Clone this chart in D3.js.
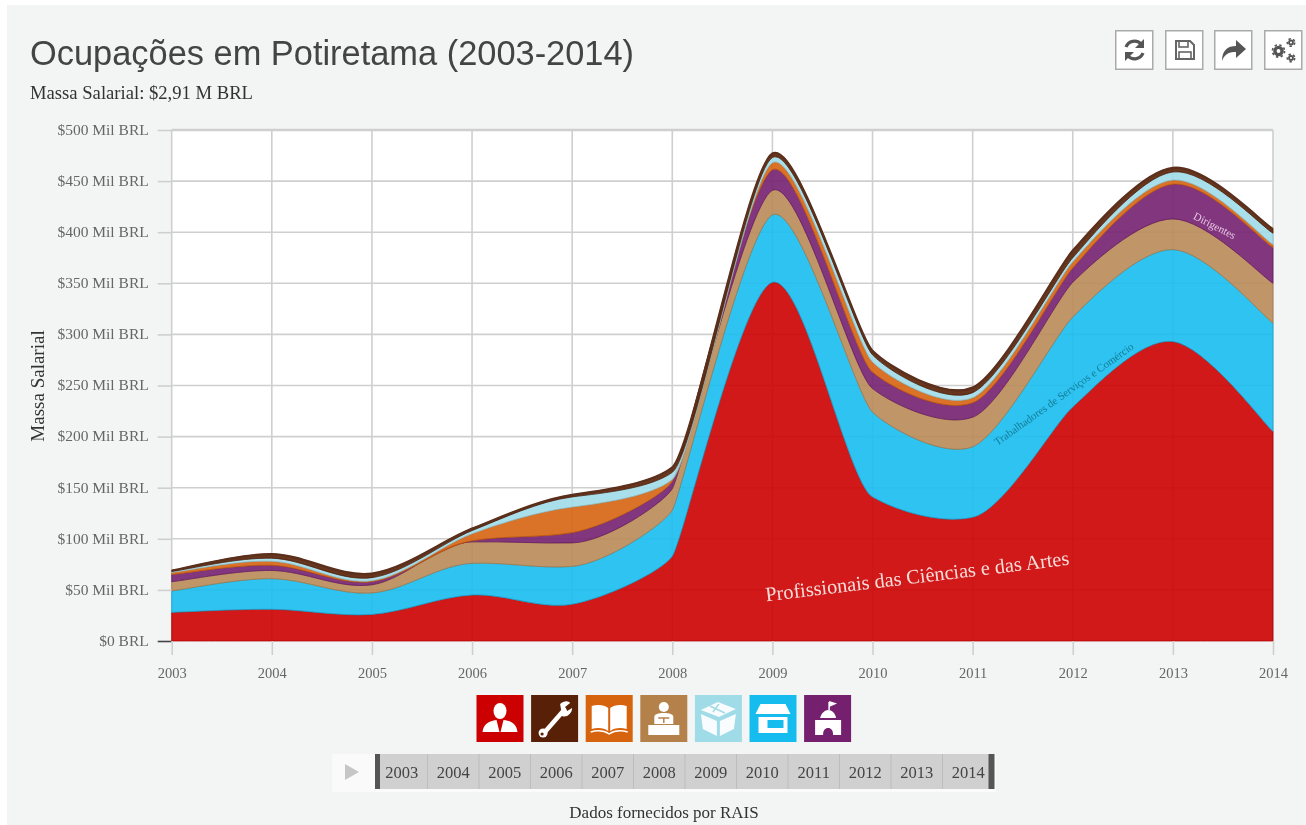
<!DOCTYPE html>
<html><head><meta charset="utf-8">
<script src="https://cdn.jsdelivr.net/npm/d3@7"></script>
<style>
html,body{margin:0;padding:0;background:#fff;overflow:hidden}
svg{display:block;filter:blur(0.3px)}
.serif{font-family:"Liberation Serif",serif}
.sans{font-family:"Liberation Sans",Arial,sans-serif}
</style></head><body>
<svg id="c" width="1306" height="825"></svg>
<script>
const years = [2003,2004,2005,2006,2007,2008,2009,2010,2011,2012,2013,2014];
const profissionais = [28,31,26,45,36,83,351,141,121,229,293,205];
const servicos      = [21,30,21,31,37,45,66,83,69,88,90,106];
const administrativos = [9,8,8,21,23,21,24,23,29,34,30,39];
const dirigentes    = [7,5,3,1,10,7,20,16,14,14,34,35];
const tecnicos      = [2,4,1,7,25,2,7,10,5,6,4,3];
const agropecuaria  = [1,3,3,3,10,7,5,7,5,4,8,11];
const industria     = [1,4,4,2,2,5,4,4,5,7,4,4];
const seriesNames = ["Profissionais","Servicos","Administrativos","Dirigentes","Tecnicos","Agropecuaria","Industria"];
const seriesValues = [profissionais,servicos,administrativos,dirigentes,tecnicos,agropecuaria,industria];
const seriesColors = ["#cc0000","#17bcef","#b98a56","#74206f","#d6640f","#a0dbe8","#582007"];
const yTicks = [0,50,100,150,200,250,300,350,400,450,500];
const legendColors = ["#cc0000","#582007","#d6640f","#b5814a","#a0dbe8","#17bcef","#74206f"];

// Older-style monotone interpolation (tangents shortened where the slope is steep)
function monotoneClassic(context){
  let line = NaN, pts = [];
  return {
    areaStart(){ line = 0; },
    areaEnd(){ line = NaN; },
    lineStart(){ pts = []; },
    point(a,b){ pts.push([+a,+b]); },
    lineEnd(){
      const n = pts.length;
      if(n){
        const sl = [];
        for(let i=0;i<n-1;i++) sl.push((pts[i+1][1]-pts[i][1])/(pts[i+1][0]-pts[i][0]));
        const m = pts.map((p,i)=> i===0 ? sl[0] : i===n-1 ? sl[n-2] : (sl[i-1]+sl[i])/2);
        for(let i=0;i<n-1;i++){
          const d = sl[i];
          if(Math.abs(d)<1e-6){ m[i]=m[i+1]=0; }
          else{
            const p=m[i]/d, q=m[i+1]/d; let s=p*p+q*q;
            if(s>9){ s=d*3/Math.sqrt(s); m[i]=s*p; m[i+1]=s*q; }
          }
        }
        const tan = pts.map((p,i)=>{
          const s=(pts[Math.min(n-1,i+1)][0]-pts[Math.max(0,i-1)][0])/(6*(1+m[i]*m[i]));
          return [s, m[i]*s];
        });
        if(line) context.lineTo(pts[0][0],pts[0][1]); else context.moveTo(pts[0][0],pts[0][1]);
        for(let i=1;i<n;i++){
          context.bezierCurveTo(pts[i-1][0]+tan[i-1][0],pts[i-1][1]+tan[i-1][1],
                                pts[i][0]-tan[i][0],pts[i][1]-tan[i][1],pts[i][0],pts[i][1]);
        }
      }
      if(line) context.closePath();
      line = 1-line;
    }
  };
}

const svg = d3.select("#c");
svg.append("rect").attr("x",7).attr("y",5).attr("width",1299).attr("height",820).attr("fill","#f3f5f4");

const x = d3.scaleLinear().domain([2003,2014]).range([171.7,1273]);
const y = d3.scaleLinear().domain([0,500]).range([641,130]);

// title
svg.append("text").attr("class","sans").attr("x",30).attr("y",65).attr("font-size",34.4).attr("fill","#444").text("Ocupações em Potiretama (2003-2014)");
svg.append("text").attr("class","serif").attr("x",30).attr("y",99).attr("font-size",18).attr("textLength",223).attr("lengthAdjust","spacingAndGlyphs").attr("fill","#333").text("Massa Salarial: $2,91 M BRL");

// plot background
svg.append("rect").attr("x",x(2003)).attr("y",y(500)).attr("width",x(2014)-x(2003)).attr("height",y(0)-y(500)).attr("fill","#fff");

// grid
const grid = svg.append("g").attr("stroke","#cfcfcf");
grid.selectAll(".h").data(yTicks.filter(d=>d>0)).join("line")
  .attr("x1",x(2003)).attr("x2",x(2014)).attr("y1",d=>y(d)).attr("y2",d=>y(d)).attr("stroke-width",d=>d===500?2.5:1.6);
grid.selectAll(".v").data(years).join("line")
  .attr("y1",y(500)).attr("y2",y(0)).attr("x1",d=>x(d)).attr("x2",d=>x(d)).attr("stroke-width",1.6);

// stack
const rows = years.map((yr,i)=>{const r={year:yr};seriesNames.forEach((n,j)=>r[n]=seriesValues[j][i]);return r;});
const stacked = d3.stack().keys(seriesNames)(rows);
const area = d3.area().x(d=>x(d.data.year)).y0(d=>y(d[0])).y1(d=>y(d[1])).curve(monotoneClassic);
svg.append("g").selectAll("path").data(stacked).join("path")
  .attr("d",area)
  .attr("fill",(d,i)=>seriesColors[i]).attr("fill-opacity",.9)
  .attr("stroke",(d,i)=>d3.color(seriesColors[i]).darker(.4)).attr("stroke-opacity",.75).attr("stroke-width",1);
const topLine = d3.line().x(d=>x(d.data.year)).y(d=>y(d[1])).curve(monotoneClassic);
svg.append("path").attr("d",topLine(stacked[6])).attr("fill","none").attr("stroke","#5a2f1c").attr("stroke-width",2.2);

// axes
const yAxis = d3.axisLeft(y).tickValues(yTicks).tickSize(14).tickPadding(9)
  .tickFormat(d=>d===0?"$0 BRL":`$${d} Mil BRL`);
const gy = svg.append("g").attr("transform",`translate(${x(2003)},0)`).call(yAxis);
gy.select(".domain").remove();
gy.selectAll("line").attr("stroke",(d)=>d===0?"#444":"#cfcfcf").attr("stroke-width",1.6);
gy.selectAll("text").attr("class","serif").attr("font-size",15.5).attr("fill","#666").attr("dy","0.28em");

const xAxis = d3.axisBottom(x).tickValues(years).tickFormat(d3.format("d")).tickSize(14).tickPadding(13);
const gx = svg.append("g").attr("transform",`translate(0,${y(0)})`).call(xAxis);
gx.select(".domain").remove();
gx.selectAll("line").attr("stroke","#cfcfcf").attr("stroke-width",1.6);
gx.selectAll("text").attr("class","serif").attr("font-size",14.5).attr("fill","#666");

svg.append("text").attr("class","serif").attr("transform",`translate(44,386) rotate(-90)`).attr("text-anchor","middle")
  .attr("font-size",19).attr("fill","#333").text("Massa Salarial");

// area labels
svg.append("text").attr("class","serif").attr("text-anchor","middle").attr("font-size",20.3).attr("fill","#f8dedb")
  .attr("transform",`translate(918,583) rotate(-6.9)`).text("Profissionais das Ciências e das Artes");
svg.append("text").attr("class","serif").attr("text-anchor","middle").attr("font-size",10.9).attr("fill","#157c96")
  .attr("transform",`translate(1066,397) rotate(-35.5)`).text("Trabalhadores de Serviços e Comércio");
svg.append("text").attr("class","serif").attr("text-anchor","middle").attr("font-size",11).attr("fill","#e6c8e6")
  .attr("transform",`translate(1213,229) rotate(27)`).text("Dirigentes");

// top-right buttons
const btnX = [1115,1165,1214,1264];
const btns = svg.append("g").selectAll("g").data(btnX).join("g").attr("transform",d=>`translate(${d},30)`);
btns.append("rect").attr("x",.75).attr("y",.75).attr("width",37).attr("height",38.5).attr("fill","#fff").attr("stroke","#aaa").attr("stroke-width",1.5);
const b0 = d3.select(btns.nodes()[0]);
b0.append("path").attr("d","M11 17 A9 9 0 0 1 26 14").attr("fill","none").attr("stroke","#555").attr("stroke-width",3.2);
b0.append("path").attr("d","M29 9 L29 18 L20 18 Z").attr("fill","#555");
b0.append("path").attr("d","M28 23 A9 9 0 0 1 13 26").attr("fill","none").attr("stroke","#555").attr("stroke-width",3.2);
b0.append("path").attr("d","M10 31 L10 22 L19 22 Z").attr("fill","#555");
const b1 = d3.select(btns.nodes()[1]);
b1.append("path").attr("d","M11 11 H25 L29 15 V29 H11 Z").attr("fill","none").attr("stroke","#666").attr("stroke-width",2);
b1.append("rect").attr("x",14).attr("y",11).attr("width",9).attr("height",6).attr("fill","none").attr("stroke","#666").attr("stroke-width",1.6);
b1.append("rect").attr("x",14).attr("y",22).attr("width",12).attr("height",7).attr("fill","none").attr("stroke","#666").attr("stroke-width",1.6);
const b2 = d3.select(btns.nodes()[2]);
b2.append("path").attr("d","M8 31 C8 20 14 16 22 16 V10 L32 19 L22 28 V22 C16 22 11 23 8 31 Z").attr("fill","#555");
const b3 = d3.select(btns.nodes()[3]);
const gear=(g,cx,cy,r,w)=>{
  g.append("circle").attr("cx",cx).attr("cy",cy).attr("r",r).attr("fill","none").attr("stroke","#555").attr("stroke-width",w);
  g.append("circle").attr("cx",cx).attr("cy",cy).attr("r",r+w/2+.8).attr("fill","none").attr("stroke","#555").attr("stroke-width",1.6).attr("stroke-dasharray","2.4 2.4");
};
gear(b3,14.5,21,3.6,3.4); gear(b3,27,12.5,2,1.8); gear(b3,27,28,2,1.8);

// legend
const lg = svg.append("g").selectAll("g").data(legendColors).join("g").attr("transform",(d,i)=>`translate(${476.5+i*54.6},695)`);
lg.append("rect").attr("width",47).attr("height",47).attr("fill",d=>d);
const ic = i=>d3.select(lg.nodes()[i]);
const W="#fff";
ic(0).append("ellipse").attr("cx",23.5).attr("cy",16).attr("rx",6.5).attr("ry",8).attr("fill",W);
ic(0).append("path").attr("d","M6 37 C7 29 12 26 20 25 L23 37 Z M41 37 C40 29 35 26 27 25 L24 37 Z").attr("fill",W);
ic(1).append("path").attr("d","M12 39 L33 15").attr("stroke",W).attr("stroke-width",4.5).attr("stroke-linecap","round");
ic(1).append("path").attr("d","M29 9 C33 5 38 6 39 8 L34 12 L36 16 L41 13 C41 19 35 23 31 21 Z").attr("fill",W);
ic(1).append("circle").attr("cx",12).attr("cy",38).attr("r",4.5).attr("fill",W);
ic(1).append("circle").attr("cx",11).attr("cy",39).attr("r",1.6).attr("fill","#582007");
ic(2).append("path").attr("d","M6 11 C12 9 19 10 22.5 13 V36 C19 33 12 32 6 34 Z M41 11 C35 9 28 10 24.5 13 V36 C28 33 35 32 41 34 Z").attr("fill",W);
ic(2).append("path").attr("d","M5 37 C12 35 19 36 23.5 39 C28 36 35 35 42 37").attr("fill","none").attr("stroke",W).attr("stroke-width",1.5);
ic(3).append("circle").attr("cx",23.5).attr("cy",12).attr("r",5).attr("fill",W);
ic(3).append("path").attr("d","M14 29 V22 C14 19 18 18 23.5 18 C29 18 33 19 33 22 V29 Z").attr("fill",W);
ic(3).append("rect").attr("x",8).attr("y",30).attr("width",31).attr("height",10).attr("fill",W);
ic(3).append("path").attr("d","M18 23 H29 M23.5 23 V28").attr("stroke","#b5814a").attr("stroke-width",1.5);
ic(4).append("path").attr("d","M6 15 L23 7 L41 14 L24 22 Z M6 19 L22 26 V41 L8 34 Z M41 19 L25 26 V41 L39 34 Z").attr("fill",W).attr("fill-opacity",.92);
ic(4).append("path").attr("d","M15 11 L30 18 M24 9 L18 17").attr("stroke","#a0dbe8").attr("stroke-width",1.4);
ic(5).append("path").attr("d","M11 9 H36 L41 19 H6 Z").attr("fill",W);
ic(5).append("path").attr("d","M9 22 H38 V38 H9 Z M18 25 V33 H34 V25 Z").attr("fill",W).attr("fill-rule","evenodd");
ic(6).append("path").attr("d","M25 7 V15").attr("stroke",W).attr("stroke-width",1.5);
ic(6).append("path").attr("d","M25 6 L33 8.5 L25 12 Z").attr("fill",W);
ic(6).append("path").attr("d","M16 23 C17 18 21 15 24 15 C28 15 31 18 32 23 Z").attr("fill",W);
ic(6).append("path").attr("d","M11 25 H37 V40 H29 C29 35 27 33 24 33 C21 33 19 35 19 40 H11 Z").attr("fill",W);

// timeline
svg.append("rect").attr("x",332).attr("y",754).attr("width",41).attr("height",38).attr("fill","#f9faf9");
svg.append("path").attr("d","M345 764 L359 772 L345 780 Z").attr("fill","#c6c6c6");
svg.append("rect").attr("x",373).attr("y",754).attr("width",623).attr("height",38).attr("fill","#fafbfa");
const tlX = d3.scaleBand().domain(years).range([376,994]);
const tl = svg.append("g").selectAll("g").data(years).join("g").attr("transform",d=>`translate(${tlX(d)},754)`);
tl.append("rect").attr("width",tlX.bandwidth()).attr("height",35).attr("fill","#d0d0d0");
tl.filter((d,i)=>i>0).append("line").attr("y2",35).attr("stroke","#bdbdbd").attr("stroke-width",1);
tl.append("text").attr("class","serif").attr("x",tlX.bandwidth()/2).attr("y",23.5).attr("text-anchor","middle")
  .attr("font-size",16.5).attr("fill","#444").text(d=>d);
svg.append("rect").attr("x",375).attr("y",754).attr("width",5).attr("height",35).attr("fill","#555");
svg.append("rect").attr("x",988.5).attr("y",754).attr("width",6).attr("height",35).attr("fill","#555");

svg.append("text").attr("class","serif").attr("x",664).attr("y",818).attr("text-anchor","middle")
  .attr("font-size",17).attr("fill","#333").text("Dados fornecidos por RAIS");
</script>
</body></html>
